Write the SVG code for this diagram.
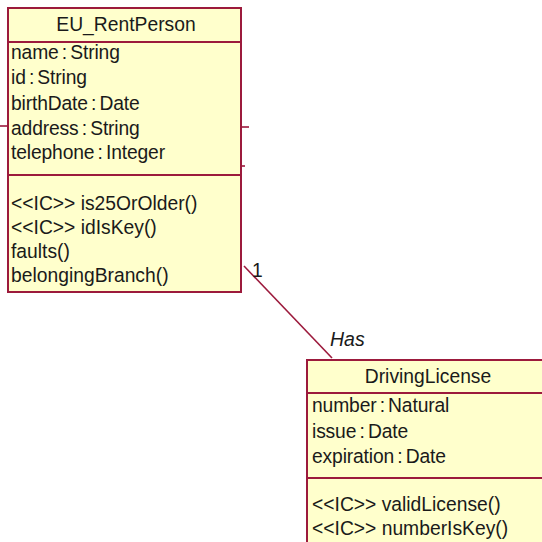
<svg xmlns="http://www.w3.org/2000/svg" width="542" height="542" viewBox="0 0 542 542">
  <style>
    .box { fill: #ffffcc; stroke: #9c1a3c; stroke-width: 2; }
    .sep { stroke: #9c1a3c; stroke-width: 2; fill: none; }
    .conn { stroke: #9c1a3c; stroke-width: 1.6; fill: none; }
    text { font-family: "Liberation Sans", Arial, sans-serif; font-size: 19.3px; fill: #1a1a1a; }
    .title { text-anchor: middle; }
    .attr { word-spacing: -2px; letter-spacing: -0.15px; }
    .role { font-style: italic; font-size: 19.5px; }
  </style>
  <rect width="542" height="542" fill="#ffffff"/>

  <!-- association and stubs of other associations -->
  <g id="connectors">
    <line class="conn" x1="244" y1="266" x2="332" y2="358"/>
    <text x="252" y="277" font-size="17">1</text>
    <text class="role" x="330" y="346">Has</text>
    <line class="conn" x1="0" y1="126" x2="8" y2="126"/>
    <line class="conn" x1="241" y1="127" x2="249" y2="127"/>
    <line class="conn" x1="241" y1="166" x2="245" y2="166"/>
  </g>

  <g id="EU_RentPerson">
    <rect class="box" x="8" y="8" width="233" height="284"/>
    <line class="sep" x1="8" y1="42" x2="241" y2="42"/>
    <line class="sep" x1="8" y1="175" x2="241" y2="175"/>
    <text class="title" x="126" y="31">EU_RentPerson</text>
    <text class="attr" x="11" y="59">name : String</text>
    <text class="attr" x="11" y="84">id : String</text>
    <text class="attr" x="11" y="110">birthDate : Date</text>
    <text class="attr" x="11" y="135">address : String</text>
    <text class="attr" x="11" y="159">telephone : Integer</text>
    <text x="11" y="210">&lt;&lt;IC&gt;&gt; is25OrOlder()</text>
    <text x="11" y="234">&lt;&lt;IC&gt;&gt; idIsKey()</text>
    <text x="11" y="258">faults()</text>
    <text x="11" y="282">belongingBranch()</text>
  </g>

  <g id="DrivingLicense">
    <rect class="box" x="307" y="360" width="245" height="200"/>
    <line class="sep" x1="307" y1="393" x2="552" y2="393"/>
    <line class="sep" x1="307" y1="478" x2="552" y2="478"/>
    <text class="title" x="428" y="383">DrivingLicense</text>
    <text class="attr" x="312" y="412">number : Natural</text>
    <text class="attr" x="312" y="438">issue : Date</text>
    <text class="attr" x="312" y="463">expiration : Date</text>
    <text x="312" y="511">&lt;&lt;IC&gt;&gt; validLicense()</text>
    <text x="312" y="535">&lt;&lt;IC&gt;&gt; numberIsKey()</text>
  </g>
</svg>
